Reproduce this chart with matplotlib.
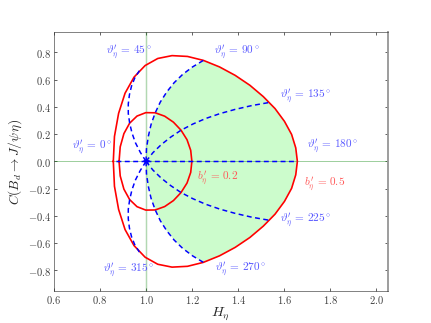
import numpy as np
import matplotlib
matplotlib.use('Agg')
import matplotlib.pyplot as plt
from matplotlib.ticker import FuncFormatter

# outer contour b'_eta = 0.5, theta'_eta = 0..360 deg in 10 deg steps
outer_H = [0.858, 0.863, 0.881, 0.909, 0.948, 0.996, 1.051, 1.113, 1.180, 1.249,
           1.319, 1.387, 1.451, 1.509, 1.560, 1.601, 1.632, 1.650, 1.657,
           1.650, 1.632, 1.601, 1.560, 1.509, 1.451, 1.387, 1.319, 1.249,
           1.180, 1.113, 1.051, 0.996, 0.948, 0.909, 0.881, 0.863, 0.858]
outer_C = [0.000, 0.183, 0.353, 0.501, 0.619, 0.704, 0.756, 0.777, 0.771, 0.742,
           0.694, 0.632, 0.559, 0.476, 0.388, 0.294, 0.198, 0.099, 0.000,
           -0.099, -0.198, -0.294, -0.388, -0.476, -0.559, -0.632, -0.694, -0.742,
           -0.771, -0.777, -0.756, -0.704, -0.619, -0.501, -0.353, -0.183, 0.000]

# inner contour b'_eta = 0.2, theta'_eta in 15 deg steps
inner_H = [0.883, 0.888, 0.904, 0.929, 0.961, 0.999, 1.040, 1.081, 1.119, 1.152,
           1.178, 1.194, 1.199, 1.194, 1.178, 1.152, 1.119, 1.081, 1.040, 0.999,
           0.961, 0.929, 0.904, 0.888, 0.883]
inner_C = [0.000, 0.107, 0.204, 0.281, 0.333, 0.358, 0.357, 0.332, 0.288, 0.229,
           0.159, 0.081, 0.000, -0.081, -0.159, -0.229, -0.288, -0.332, -0.357,
           -0.358, -0.333, -0.281, -0.204, -0.107, 0.000]

# fixed theta'_eta lines, b'_eta = 0 .. 0.5
d0_H = [1.000, 0.858]
d0_C = [0.000, 0.000]
d180_H = [1.000, 1.657]
d180_C = [0.000, 0.000]
d45_H = [1.000, 0.975, 0.954, 0.939, 0.929, 0.923, 0.923, 0.928, 0.937, 0.951, 0.971]
d45_C = [0.000, 0.067, 0.137, 0.209, 0.281, 0.352, 0.422, 0.490, 0.553, 0.612, 0.666]
d90_H = [1.000, 1.002, 1.010, 1.022, 1.040, 1.062, 1.090, 1.122, 1.159, 1.202, 1.249]
d90_C = [0.000, 0.092, 0.184, 0.272, 0.357, 0.436, 0.510, 0.578, 0.639, 0.694, 0.742]
d135_H = [1.000, 1.030, 1.066, 1.107, 1.152, 1.203, 1.259, 1.321, 1.387, 1.459, 1.536]
d135_C = [0.000, 0.064, 0.123, 0.178, 0.229, 0.274, 0.315, 0.351, 0.382, 0.410, 0.433]
d225_H = [1.000, 1.030, 1.066, 1.107, 1.152, 1.203, 1.259, 1.321, 1.387, 1.459, 1.536]
d225_C = [0.000, -0.064, -0.123, -0.178, -0.229, -0.274, -0.315, -0.351, -0.382, -0.410, -0.433]
d270_H = [1.000, 1.002, 1.010, 1.022, 1.040, 1.062, 1.090, 1.122, 1.159, 1.202, 1.249]
d270_C = [0.000, -0.092, -0.184, -0.272, -0.357, -0.436, -0.510, -0.578, -0.639, -0.694, -0.742]
d315_H = [1.000, 0.975, 0.954, 0.939, 0.929, 0.923, 0.923, 0.928, 0.937, 0.951, 0.971]
d315_C = [0.000, -0.067, -0.137, -0.209, -0.281, -0.352, -0.422, -0.490, -0.553, -0.612, -0.666]

# annotation texts and where they sit (H, C of left edge)
theta_labels = ["0", "45", "90", "135", "180", "225", "270", "315"]
theta_pos = [(0.68, 0.10), (0.825, 0.80), (1.295, 0.80), (1.583, 0.477),
             (1.70, 0.108), (1.583, -0.434), (1.30, -0.798), (0.815, -0.803)]
b_labels = ["0.2", "0.5"]
b_pos = [(1.222, -0.126), (1.685, -0.168)]

plt.rcParams['mathtext.fontset'] = 'cm'
plt.rcParams['xtick.direction'] = 'in'
plt.rcParams['ytick.direction'] = 'in'
plt.rcParams['xtick.top'] = True
plt.rcParams['ytick.right'] = True

fig = plt.figure(figsize=(8, 6), dpi=53.875, facecolor='white')
ax = fig.add_axes([0.125, 0.1, 0.775, 0.8])

# shaded region: between the 90 and 270 deg lines inside the outer contour
fill_H = np.concatenate([d90_H, outer_H[9:28], d270_H[::-1]])
fill_C = np.concatenate([d90_C, outer_C[9:28], d270_C[::-1]])
ax.fill(fill_H, fill_C, color='#ccfccc', lw=0, zorder=1)

ax.axvline(1.0, color='g', alpha=0.3, lw=2, zorder=2)
ax.axhline(0.0, color='g', alpha=0.5, lw=1, zorder=2)

ax.plot(outer_H, outer_C, 'r-', lw=2.2, zorder=3)
ax.plot(inner_H, inner_C, 'r-', lw=2.2, zorder=3)
for hh, cc in [(d0_H, d0_C), (d45_H, d45_C), (d90_H, d90_C), (d135_H, d135_C),
               (d180_H, d180_C), (d225_H, d225_C), (d270_H, d270_C), (d315_H, d315_C)]:
    ax.plot(hh, cc, 'b--', lw=2, dashes=(3.3, 2.3), zorder=4)
ax.plot([1.0], [0.0], 'b*', ms=8, mec='b', zorder=5)

for lab, (x, y) in zip(theta_labels, theta_pos):
    ax.text(x, y, r"$\vartheta^\prime_\eta\,=\,%s^\circ$" % lab, color='#5a5aff',
            fontsize=15, ha='left', va='center')
for lab, (x, y) in zip(b_labels, b_pos):
    ax.text(x, y, r"$b^\prime_\eta\,=\,%s$" % lab, color='#ff5a5a',
            fontsize=15, ha='left', va='center')

ax.set_xlim(0.6, 2.05)
ax.set_ylim(-0.95, 0.95)
ax.set_xticks(np.arange(0.6, 2.01, 0.2))
ax.set_yticks(np.arange(-0.8, 0.81, 0.2))
fmt = FuncFormatter(lambda v, p: r"$%.1f$" % (0.0 if abs(v) < 1e-9 else v))
ax.xaxis.set_major_formatter(fmt)
ax.yaxis.set_major_formatter(fmt)
ax.tick_params(labelsize=14, length=4, width=1, colors='0.2', labelcolor='0.25')
for s in ['left', 'top', 'bottom']:
    ax.spines[s].set_color('0.2')
ax.spines['right'].set_color('0.6')
ax.spines['right'].set_linewidth(2.5)

ax.set_xlabel(r"$H_\eta$", fontsize=19, color='0.15', labelpad=0)
ax.set_ylabel(r"$C(B_d\to J/\psi\,\eta)$", fontsize=18, color='0.15', labelpad=6)

fig.savefig('out.png', dpi=53.875, facecolor='white')
